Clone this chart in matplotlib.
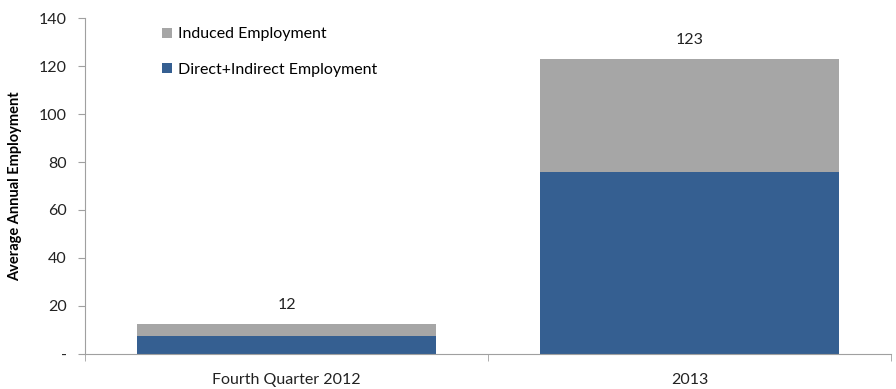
import matplotlib
matplotlib.use("Agg")
from matplotlib import pyplot as plt
from matplotlib.ticker import FuncFormatter

plt.rcParams['font.family'] = ['Lato', 'DejaVu Sans']

kategorije = ["Fourth Quarter 2012", "2013"]
direktno = [7.6, 76]
inducirano = [4.9, 47]
skupaj_oznake = ["12", "123"]
y_ticki = [0, 20, 40, 60, 80, 100, 120, 140]

modra = "#355f91"
siva = "#a6a6a6"
crta = "#a0a0a0"

fig = plt.figure(figsize=(8.96, 3.89), dpi=100)
ax = fig.add_axes([0.0949, 0.09, 0.8995, 0.8637])

x = list(range(len(kategorije)))
b1 = ax.bar(x, direktno, width=0.74, color=modra, label="Direct+Indirect Employment")
b2 = ax.bar(x, inducirano, width=0.74, bottom=direktno, color=siva, label="Induced Employment")

# oznake skupnega stevila nad stolpci
for i in x:
    vrh = direktno[i] + inducirano[i]
    ax.text(i, vrh + 5, skupaj_oznake[i], ha="center", va="bottom", fontsize=11.5, color="#222222")

ax.set_xlim(-0.5, 1.5)
ax.set_ylim(0, 140)
ax.set_yticks(y_ticki)
ax.yaxis.set_major_formatter(FuncFormatter(lambda v, p: "-" if v == 0 else "%d" % v))
ax.set_xticks(x)
ax.set_xticklabels(kategorije)
ax.set_xticks([-0.5, 0.5, 1.5], minor=True)
ax.tick_params(axis="x", which="major", length=0, pad=14, labelsize=11.5, colors="#222222")
ax.tick_params(axis="x", which="minor", length=5, color=crta, direction="out")
ax.tick_params(axis="y", length=5, color=crta, labelsize=11.5, colors="#222222", pad=8)
ax.tick_params(axis="y", color=crta)

for s in ["top", "right"]:
    ax.spines[s].set_visible(False)
ax.spines["left"].set_color(crta)
ax.spines["bottom"].set_color(crta)

ax.set_ylabel("Average Annual Employment", fontsize=10.5, fontweight="bold", labelpad=12)

ax.legend(handles=[b2, b1], loc="upper left", bbox_to_anchor=(0.078, 1.015), frameon=False,
          fontsize=11.5, handlelength=0.6, handleheight=0.6, handletextpad=0.4, labelspacing=1.35)

plt.savefig("out.png", dpi=100)
